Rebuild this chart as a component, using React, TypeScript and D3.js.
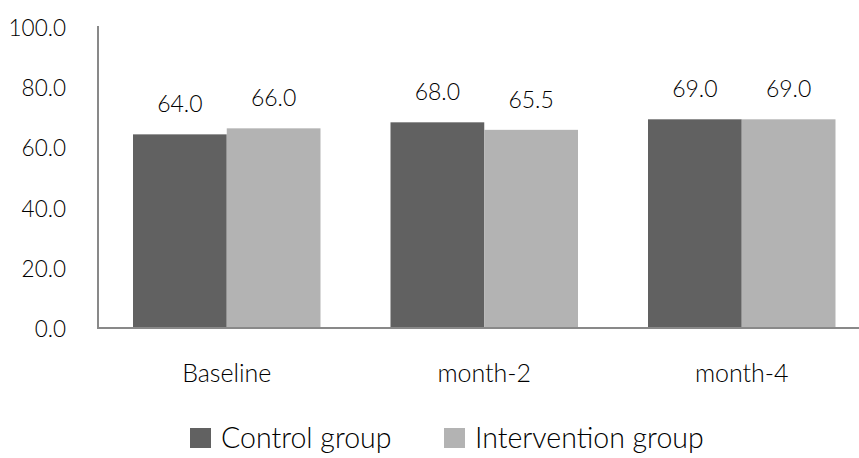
import React from "react";
import * as d3 from "d3";

const categories = ["Baseline", "month-2", "month-4"];
const seriesNames = ["Control group", "Intervention group"];
const controlValues = [64.0, 68.0, 69.0];
const interventionValues = [66.0, 65.5, 69.0];
const yTicks = [0, 20, 40, 60, 80, 100];
const seriesColors = ["#616161", "#b3b3b3"];

const W = 859;
const H = 458;
const FONT = "Lato, 'Noto Sans', sans-serif";

export default function App() {
  const y = d3.scaleLinear().domain([0, 100]).range([327, 26]);
  const x0 = d3
    .scaleBand<string>()
    .domain(categories)
    .range([98, 870.5])
    .paddingInner(70 / 257.5)
    .paddingOuter(35 / 257.5);
  const x1 = d3
    .scaleBand<string>()
    .domain(seriesNames)
    .range([0, x0.bandwidth()])
    .padding(0);

  const seriesValues = [controlValues, interventionValues];
  const fmt = d3.format(".1f");

  const legendX = [190, 444];

  return (
    <svg
      width={W}
      height={H}
      style={{ position: "absolute", left: 0, top: 0, background: "#fff" }}
      fontFamily={FONT}
      fontWeight={300}
    >
      {/* bars */}
      {categories.map((c, ci) =>
        seriesNames.map((s, si) => {
          const v = seriesValues[si][ci];
          const bx = (x0(c) ?? 0) + (x1(s) ?? 0);
          return (
            <rect
              key={c + s}
              x={bx}
              y={y(v)}
              width={x1.bandwidth()}
              height={y(0) - y(v)}
              fill={seriesColors[si]}
            />
          );
        })
      )}

      {/* value labels */}
      {categories.map((c, ci) =>
        seriesNames.map((s, si) => {
          const v = seriesValues[si][ci];
          const cx = (x0(c) ?? 0) + (x1(s) ?? 0) + x1.bandwidth() / 2;
          return (
            <text
              key={"l" + c + s}
              x={cx}
              y={y(v) - 22}
              textAnchor="middle"
              fontSize={23}
              fill="#000"
            >
              {fmt(v)}
            </text>
          );
        })
      )}

      {/* axes */}
      <line x1={98} x2={98} y1={26} y2={328} stroke="#898989" strokeWidth={2} />
      <line x1={97} x2={W} y1={328} y2={328} stroke="#898989" strokeWidth={2} />

      {/* y tick labels */}
      {yTicks.map((t) => (
        <text
          key={"yt" + t}
          x={66}
          y={y(t) + 10}
          textAnchor="end"
          fontSize={22.5}
          fill="#000"
        >
          {fmt(t)}
        </text>
      ))}

      {/* category labels */}
      {categories.map((c) => (
        <text
          key={"xc" + c}
          x={(x0(c) ?? 0) + x0.bandwidth() / 2}
          y={382}
          textAnchor="middle"
          fontSize={25}
          fill="#000"
        >
          {c}
        </text>
      ))}

      {/* legend */}
      {seriesNames.map((s, si) => (
        <g key={"lg" + s}>
          <rect x={legendX[si]} y={428} width={21} height={20} fill={seriesColors[si]} />
          <text x={legendX[si] + 31} y={448} fontSize={28.5} fill="#000">
            {s}
          </text>
        </g>
      ))}
    </svg>
  );
}
